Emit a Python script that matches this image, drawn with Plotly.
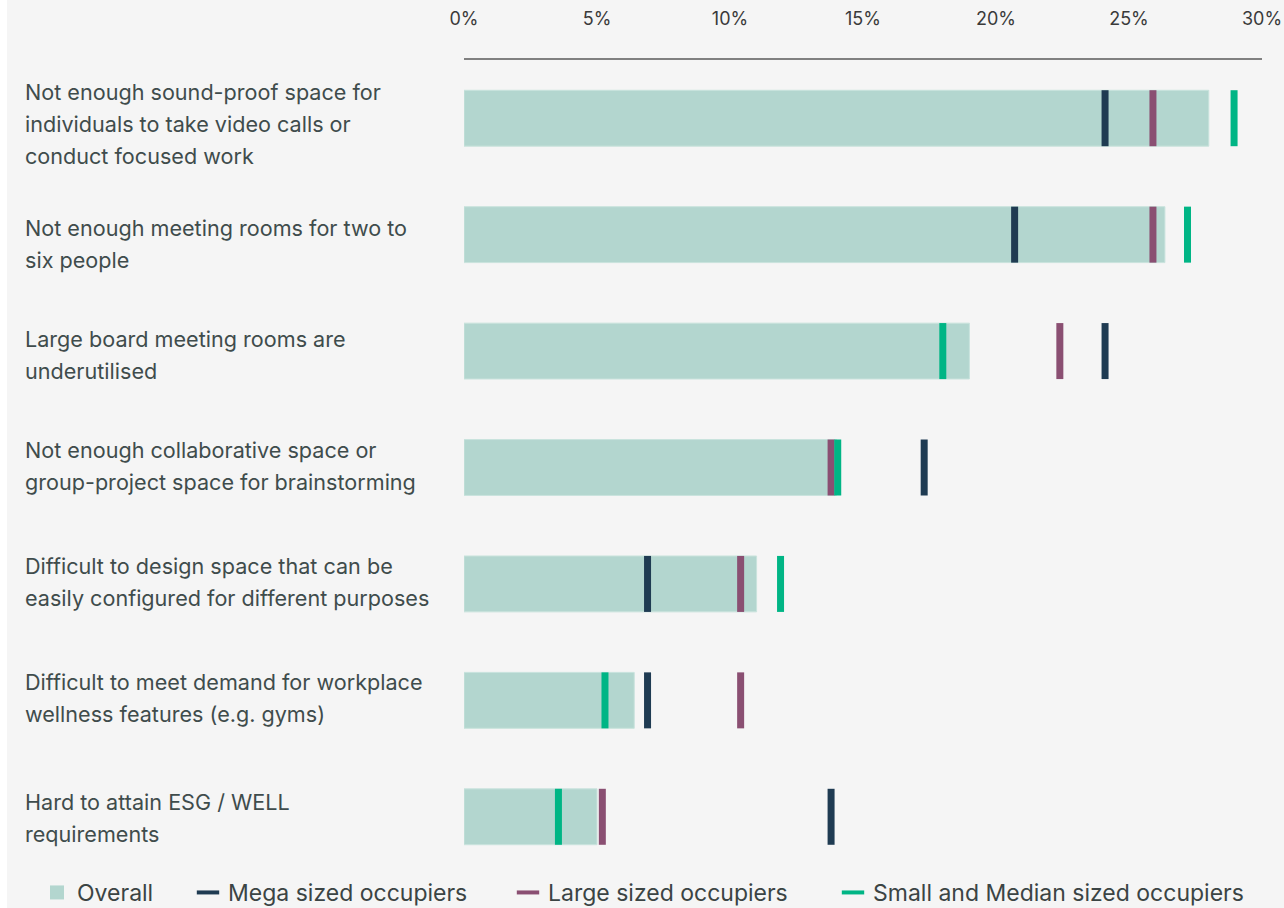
import plotly.graph_objects as go

# Survey challenges (top to bottom) and share of respondents citing each
categories = [
    "Not enough sound-proof space for<br>individuals to take video calls or<br>conduct focused work",
    "Not enough meeting rooms for two to<br>six people",
    "Large board meeting rooms are<br>underutilised",
    "Not enough collaborative space or<br>group-project space for brainstorming",
    "Difficult to design space that can be<br>easily configured for different purposes",
    "Difficult to meet demand for workplace<br>wellness features (e.g. gyms)",
    "Hard to attain ESG / WELL<br>requirements",
]
overall = [28.0, 26.35, 19.0, 14.0, 11.0, 6.4, 5.0]
mega = [24.1, 20.7, 24.1, 17.3, 6.9, 6.9, 13.8]
large = [25.9, 25.9, 22.4, 13.8, 10.4, 10.4, 5.2]
small_median = [28.95, 27.2, 18.0, 14.05, 11.9, 5.3, 3.55]

tick_values = [0, 5, 10, 15, 20, 25, 30]
tick_labels = [f"{v}%" for v in tick_values]

# Vertical nudge (px, downwards) for each category's label block
label_nudge = [6, 9, 4, -2, -2, -2, 1]

C_OVERALL = "#b3d6cf"
C_MEGA = "#1f3b52"
C_LARGE = "#8a4f72"
C_SMALL = "#00b585"
BG = "#f5f5f5"
FONT = "Inter"

W, H = 1284, 908
L, R, T, B = 464, 22, 60, 32.5
plot_w = W - L - R
plot_h = H - T - B


def px_x(px):
    return (px - L) / plot_w


def px_y(py):
    return (H - B - py) / plot_h


fig = go.Figure()

fig.add_trace(go.Bar(
    y=categories, x=overall, orientation="h", width=0.48,
    marker=dict(color=C_OVERALL, line=dict(color="#c9e3dd", width=1)),
    name="Overall", showlegend=False,
))

for vals, col in [(mega, C_MEGA), (large, C_LARGE), (small_median, C_SMALL)]:
    fig.add_trace(go.Scatter(
        y=categories, x=vals, mode="markers", showlegend=False,
        marker=dict(symbol="line-ns", size=40, color=col,
                    line=dict(color=col, width=7)),
    ))

# Legend entries, each in its own legend box
legend_items = [
    ("Overall", C_OVERALL, "square", 49),
    ("Mega sized occupiers", C_MEGA, "line-ew", 200),
    ("Large sized occupiers", C_LARGE, "line-ew", 520),
    ("Small and Median sized occupiers", C_SMALL, "line-ew", 845),
]
legend_layout = {}
for i, (name, col, sym, x0) in enumerate(legend_items):
    key = "legend" if i == 0 else f"legend{i + 1}"
    if sym == "square":
        marker = dict(symbol="square", size=14, color=col)
    else:
        marker = dict(symbol="line-ew", size=17, color=col,
                      line=dict(color=col, width=4))
    fig.add_trace(go.Scatter(
        x=[None], y=[None], mode="markers", name=name, marker=marker,
        legend=key, showlegend=True,
    ))
    legend_layout[key] = dict(
        x=px_x(x0 - 12), xanchor="left", y=px_y(893), yanchor="middle",
        orientation="h", bgcolor="rgba(0,0,0,0)",
        font=dict(family=FONT, size=23, color="#3b4444"),
    )

# Category labels, one annotation per text line
annotations = []
line_gap = 32
for cat, nudge in zip(categories, label_nudge):
    lines = cat.split("<br>")
    n = len(lines)
    for j, txt in enumerate(lines):
        offset = (j - (n - 1) / 2) * line_gap
        annotations.append(dict(
            x=px_x(23), xref="paper", xanchor="left",
            y=cat, yref="y", yanchor="middle", yshift=-offset - nudge,
            text=txt, showarrow=False, align="left",
            font=dict(family=FONT, size=21.6, color="#3f4c4c"),
        ))

fig.update_layout(
    width=W, height=H,
    margin=dict(l=L, r=R, t=T, b=B, pad=0, autoexpand=False),
    paper_bgcolor=BG, plot_bgcolor=BG,
    barmode="overlay",
    annotations=annotations,
    shapes=[dict(
        type="rect", xref="paper", yref="paper", layer="below",
        x0=px_x(-5), x1=px_x(7), y0=px_y(H + 5), y1=px_y(-5),
        fillcolor="#ffffff", line=dict(width=0),
    )],
    xaxis=dict(
        range=[0, 30], side="top", tickmode="array",
        tickvals=tick_values, ticktext=tick_labels,
        showgrid=False, zeroline=False, showline=True,
        linecolor="#808080", linewidth=2, ticks="",
        ticklabelstandoff=26,
        tickfont=dict(family=FONT, size=18, color="#3a3a3a"),
        fixedrange=True,
    ),
    yaxis=dict(
        range=[len(categories) - 0.5, -0.5], showticklabels=False,
        showgrid=False, zeroline=False, showline=False, ticks="",
        fixedrange=True,
    ),
    **legend_layout,
)

fig.write_html("out.html")
